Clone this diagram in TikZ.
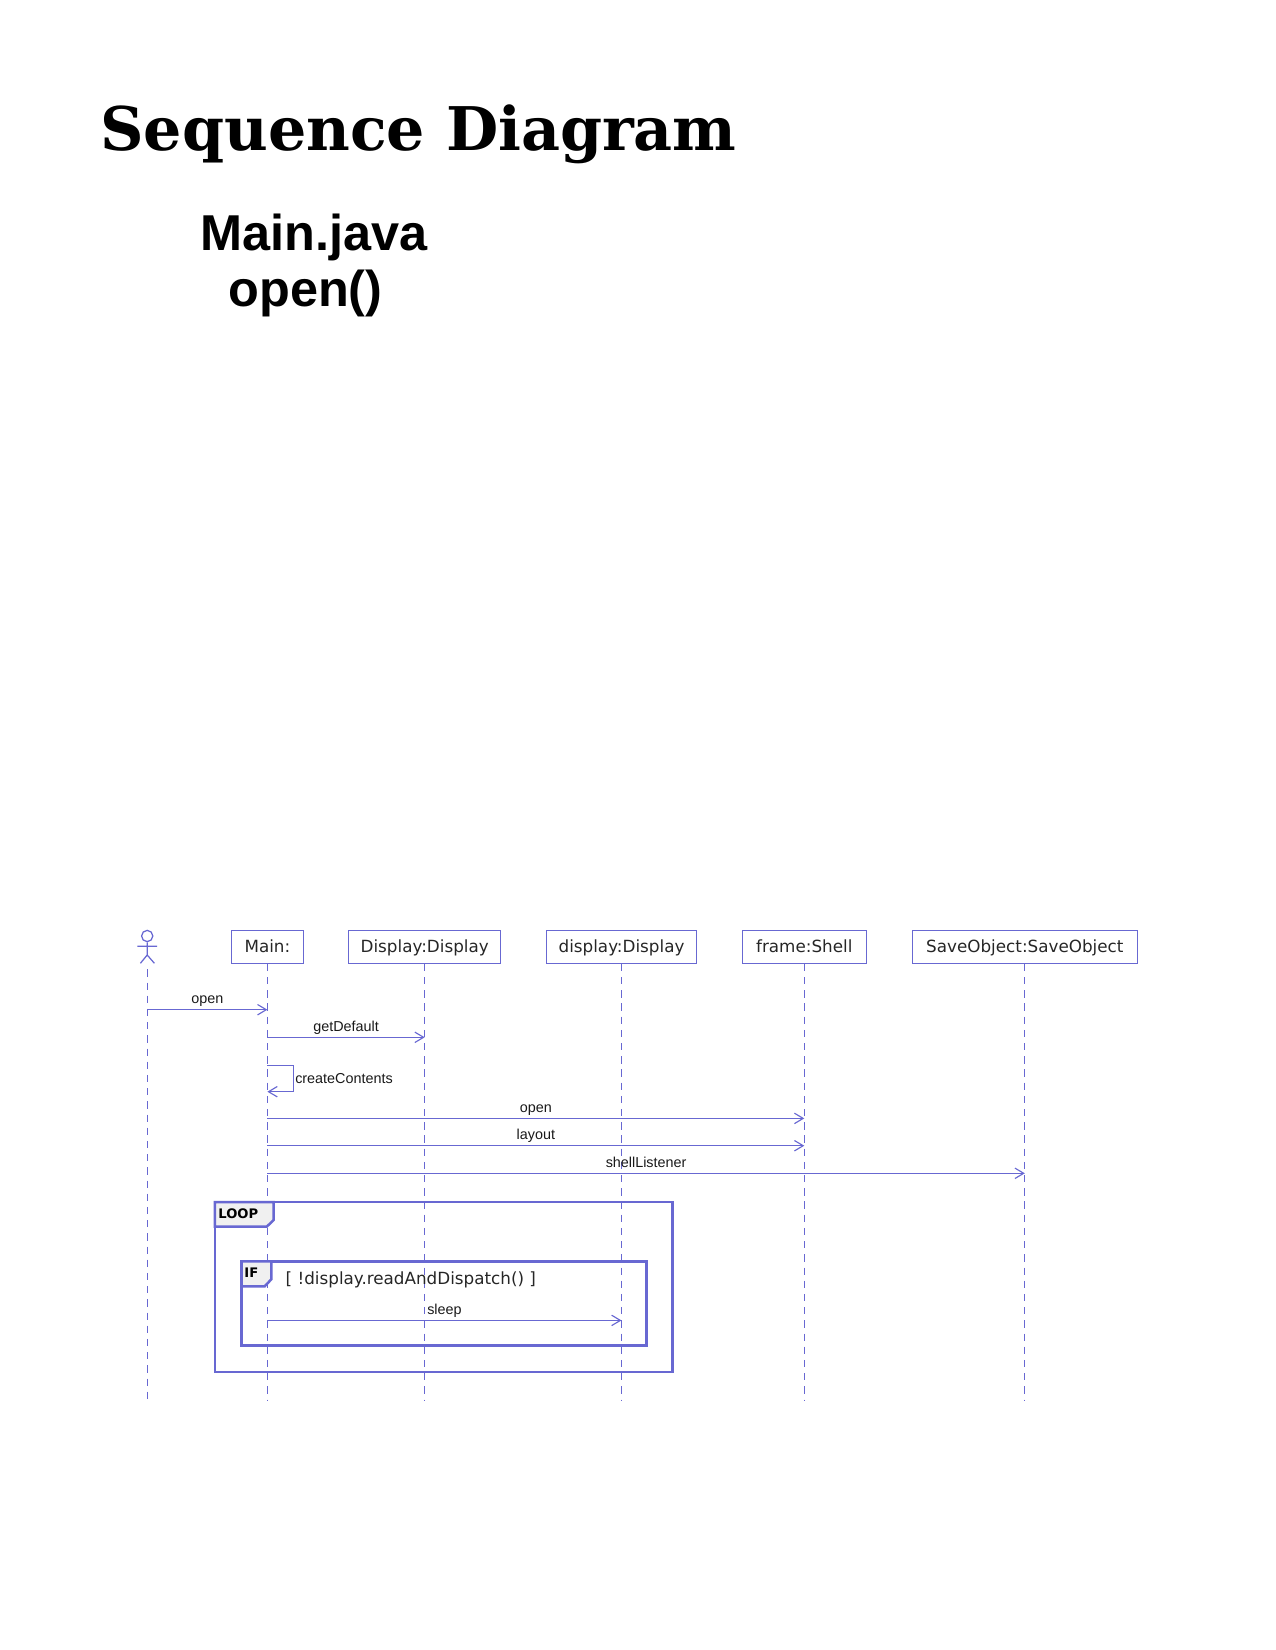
\documentclass[tikz,border=0pt]{standalone}
\usepackage{fontspec}
\setmainfont{Liberation Sans}
\newfontfamily\titlefont{DejaVu Serif}
\newfontfamily\boxfont{DejaVu Sans}
\usepackage{xcolor}
\definecolor{umlblue}{HTML}{6868D2}
\definecolor{tabgray}{HTML}{F0F0F0}
\usetikzlibrary{arrows.meta,positioning}

\begin{document}
\begin{tikzpicture}[
        x=0.48pt, y=-0.48pt,
        titletext/.style={inner sep=0pt, anchor=base west, font=\titlefont\bfseries\fontsize{28.9}{34}\selectfont},
        headtext/.style={inner sep=0pt, anchor=base west, font=\bfseries\fontsize{24.2}{28}\selectfont},
        lifebox/.style={rectangle, draw=umlblue, line width=0.6pt, minimum height=15.8pt, inner sep=0pt, text height=6.7pt, text depth=1.5pt, font=\boxfont\fontsize{8.05}{10}\selectfont, text=black!85},
        lifeline/.style={draw=umlblue, line width=0.6pt, dash pattern=on 3.5pt off 2.836pt},
        msg/.style={->, draw=umlblue, line width=0.55pt, >={Straight Barb[length=4.2pt,width=5pt]}},
        msgtext/.style={inner sep=0pt, above=1.2pt, text height=5pt, text depth=1.4pt, font=\fontsize{6.9}{8}\selectfont, text=black!90},
        frame/.style={draw=umlblue, line width=1.2pt},
        tab/.style={draw=umlblue, line width=1.2pt, fill=tabgray},
        tabtext/.style={inner sep=0pt, anchor=base west, font=\boxfont\bfseries\fontsize{6.3}{8}\selectfont}
    ]

        \useasboundingbox (0,0) rectangle (1275,1650);

        % Titles
        \node[titletext] (title) at (100,151) {Sequence Diagram};
        \node[headtext] (file) at (200,250.5) {Main.java};
        \node[headtext] (method) at (228,306.8) {open()};

        % Actor
        \node[circle, draw=umlblue, line width=0.6pt, minimum size=5.4pt, inner sep=0pt] (actor) at (147.2,936) {};
        \coordinate (hip) at (147.2,955);
        \coordinate (armleft) at (137.4,946.3);
        \coordinate (armright) at (157,946.3);
        \coordinate (legleft) at (140.4,963.3);
        \coordinate (legright) at (154.4,963.3);
        \draw[umlblue, line width=0.6pt] (actor) -- (hip) (armleft) -- (armright) (legleft) -- (hip) -- (legright);

        % Lifeline boxes
        \node[lifebox, minimum width=34.4pt] (main) at (267.4,946.8) {Main:};
        \node[lifebox, minimum width=73pt] (dispclass) at (424.7,946.8) {Display:Display};
        \node[lifebox, minimum width=71.8pt] (dispobj) at (621.5,946.8) {display:Display};
        \node[lifebox, minimum width=59.4pt] (shell) at (804.3,946.8) {frame:Shell};
        \node[lifebox, minimum width=108pt] (save) at (1024.8,946.8) {SaveObject:SaveObject};

        % Lifelines
        \coordinate (actortop) at (147.2,969.3);
        \coordinate (actorend) at (147.2,1399);
        \coordinate (mainend) at (267.4,1400.5);
        \coordinate (dispclassend) at (424.7,1400.5);
        \coordinate (dispobjend) at (621.5,1400.5);
        \coordinate (shellend) at (804.3,1400.5);
        \coordinate (saveend) at (1024.8,1400.5);
        \draw[lifeline] (actortop) -- (actorend);
        \draw[lifeline] (main) -- (mainend);
        \draw[lifeline] (dispclass) -- (dispclassend);
        \draw[lifeline] (dispobj) -- (dispobjend);
        \draw[lifeline] (shell) -- (shellend);
        \draw[lifeline] (save) -- (saveend);

        % Messages
        \coordinate (m1a) at (147.2,1009.7);
        \coordinate (m1b) at (267.4,1009.7);
        \coordinate (m2a) at (267.4,1037.3);
        \coordinate (m2b) at (424.7,1037.3);
        \coordinate (selfa) at (267.4,1065.4);
        \coordinate (selfb) at (293.6,1065.4);
        \coordinate (selfc) at (293.6,1091.7);
        \coordinate (selfd) at (267.4,1091.7);
        \coordinate (m4a) at (267.4,1118.4);
        \coordinate (m4b) at (804.3,1118.4);
        \coordinate (m5a) at (267.4,1145.7);
        \coordinate (m5b) at (804.3,1145.7);
        \coordinate (m6a) at (267.4,1173.3);
        \coordinate (m6b) at (1024.8,1173.3);
        \coordinate (m7a) at (267.4,1320.4);
        \coordinate (m7b) at (621.5,1320.4);
        \draw[msg] (m1a) -- node[msgtext] (openlabel) {open} (m1b);
        \draw[msg] (m2a) -- node[msgtext] (defaultlabel) {getDefault} (m2b);
        \draw[msg] (selfa) -- (selfb) -- (selfc) -- (selfd);
        \node[inner sep=0pt, anchor=west, right=0.6pt of selfc, yshift=6.3pt, font=\fontsize{6.9}{8}\selectfont, text=black!90] (contentslabel) {createContents};
        \draw[msg] (m4a) -- node[msgtext] (open2label) {open} (m4b);
        \draw[msg] (m5a) -- node[msgtext] (layoutlabel) {layout} (m5b);
        \draw[msg] (m6a) -- node[msgtext] (listenerlabel) {shellListener} (m6b);
        \draw[msg] (m7a) -- node[msgtext] (sleeplabel) {sleep} (m7b);

        % Loop frame
        \draw[frame] (214.8,1202) rectangle (672.5,1372);
        \draw[tab] (214.8,1202) -- (273.7,1202) -- (273.7,1220) -- (266.7,1226.7) -- (214.8,1226.7) -- cycle;
        \node[tabtext] (looplabel) at (218,1218.8) {LOOP};

        % If frame
        \draw[frame] (241.6,1261.3) rectangle (646.3,1345.7);
        \draw[tab] (241.6,1261.3) -- (271.3,1261.3) -- (271.3,1279.3) -- (264.7,1286.3) -- (241.6,1286.3) -- cycle;
        \node[tabtext] (iflabel) at (244,1277.8) {IF};
        \node[inner sep=0pt, anchor=base west, font=\boxfont\fontsize{8.05}{10}\selectfont, text=black!85] (guard) at (285.3,1284) {[ !display.readAndDispatch() ]};

    \end{tikzpicture}
\end{document}
